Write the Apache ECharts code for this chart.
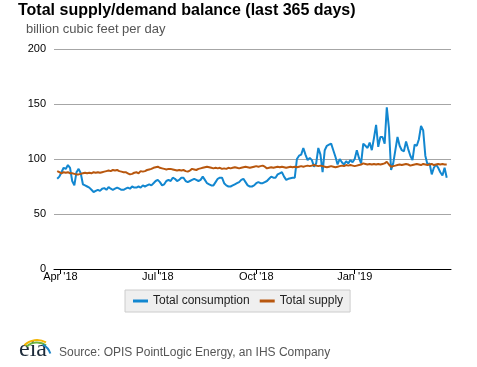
<!DOCTYPE html>
<html><head><meta charset="utf-8">
<script src="https://cdn.jsdelivr.net/npm/echarts@6/dist/echarts.min.js"></script>
<style>html,body{margin:0;padding:0;background:#fff}#c{width:477px;height:367px}</style>
</head><body><div id="c"></div>
<script>
const titleText = 'Total supply/demand balance (last 365 days)';
const unitText = 'billion cubic feet per day';
const sourceText = 'Source: OPIS PointLogic Energy, an IHS Company';
const seriesNames = ['Total consumption', 'Total supply'];
const firstDate = '2018-03-29';
const stepDays = 2;
const consumption = [
  82,84,88,92,91,94.5,92,80,76,88,
  91,87,77,76,75,74,72,70,71,72,
  71,73,73.5,72,74.5,73,72,73,74,73,
  72,72,73,74,73,75,74,74,75,74,
  76,75,76,77,76,78,80,81,79,76,
  77,80,81,80,83,82,80,81,83,83,
  80,79,80,81,82,81,80,81,84,81,
  78,77,76,76,79,82,83,83,78,76,
  75,75,76,77,78,79,81,82,79,76,
  75,75,76,78,79,78,78,79,80,82,
  84,83,83,86,87,88,84,81,82,82.5,
  83,83,100,103,104,110,104,99,101,99,
  93,96,110,104,88,108,112,113,114,108,
  102,95,100,97,95,98,96,99,97,100,
  108,101,96,114,112,110,115,108,119,131,
  111,120,120,114,147,128,90,96,108,120,
  112,108,107,116,109,103,99,113,112,118,
  130,126,103,95,96,86,92,95,92,88,
  85,92,83
];
const supply = [
  89,88,87,88,87.5,88,87,87,86.5,86,
  86,86.5,87,87.5,87,87.5,87,88,87.5,88,
  87.5,88,88.5,89,89.5,89,90,89.5,90,89,
  88.5,88,88,87,86,86.5,87.5,88,87,89,
  88.5,89,90,90.5,91,92,92.5,93,92,91.5,
  91,90.5,91,91,90.5,90,89.5,90,89.5,90,
  89,88.5,89.5,91,90.5,90,91,91.5,92,92.5,
  93,92.5,92,91.5,92,91.5,92,91,91.5,91,
  92,91.5,92,92.5,92,91.5,92,92.5,93,92.5,
  92,92.5,93,93.5,93,93.5,94,93,91.5,92,
  92.5,92,92.5,93,92.5,93,92.5,92,92.5,93,
  92.5,93,92.5,93,93.5,93,93.5,94,93.5,94,
  94.5,94,93.5,94,93.5,93,92.5,93,93.5,93,
  92.5,93,93.5,94,93.5,94.5,94,94.5,94,93.5,
  94,94.5,95,96,95.5,95,95.5,95,95.5,95,
  95.5,95,95.5,96,97.5,95,93,93.5,94,94.5,
  95,94.5,95,95.5,95,94,94.5,95,95.5,95,
  94.5,95.5,95,94.5,95,95.5,94.5,95,95.5,95,
  95.5,95,95
];
const tickDates = ['2018-04-01', '2018-07-01', '2018-10-01', '2019-01-01'];
const tickLabels = ["Apr '18", "Jul '18", "Oct '18", "Jan '19"];
const axisStart = '2018-03-26';
const axisEnd = '2019-04-01';
const yMin = 0, yMax = 200, yStep = 50;

function ts(s) { const p = s.split('-').map(Number); return Date.UTC(p[0], p[1] - 1, p[2]); }
const DAY = 86400000;
const t0 = ts(firstDate);
const toPairs = arr => arr.map((v, i) => [t0 + i * stepDays * DAY, v]);
const tickTs = tickDates.map(ts);

const FONT = '"Liberation Sans", Arial, sans-serif';
const chart = echarts.init(document.getElementById('c'), null, { renderer: 'canvas' });
chart.setOption({
  animation: false,
  title: [
    { text: titleText, left: 18, top: 3, padding: 0,
      textStyle: { fontFamily: FONT, fontSize: 16, fontWeight: 'bold', color: '#000' } },
    { text: unitText, left: 26, top: 23, padding: 0,
      textStyle: { fontFamily: FONT, fontSize: 13, fontWeight: 'normal', color: '#555' } }
  ],
  grid: { left: 54, right: 26, top: 49, bottom: 98 },
  legend: {
    data: seriesNames, left: 125, top: 290,
    padding: [5, 7, 5, 8], itemGap: 10, itemWidth: 15, itemHeight: 3,
    icon: 'rect',
    backgroundColor: '#efefef', borderColor: '#cccccc', borderWidth: 1,
    textStyle: { fontFamily: FONT, fontSize: 12, color: '#222' }
  },
  xAxis: {
    type: 'value', min: ts(axisStart), max: ts(axisEnd), scale: true,
    axisLine: { show: true, onZero: false, lineStyle: { color: '#000', width: 1 } },
    axisTick: { show: true, customValues: tickTs, length: 5, lineStyle: { color: '#000' } },
    axisLabel: {
      customValues: tickTs, margin: 2, fontFamily: FONT, fontSize: 11, color: '#000',
      showMinLabel: true, showMaxLabel: true,
      formatter: v => { const i = tickTs.findIndex(t => Math.abs(t - v) < DAY); return i >= 0 ? tickLabels[i] : ''; }
    },
    splitLine: { show: false }
  },
  yAxis: {
    type: 'value', min: yMin, max: yMax, interval: yStep,
    axisLine: { show: false }, axisTick: { show: false },
    axisLabel: { margin: 8, fontFamily: FONT, fontSize: 11, color: '#000' },
    splitLine: { show: true, lineStyle: { color: '#a6a6a6', width: 1 } }
  },
  series: [
    { name: seriesNames[0], type: 'line', data: toPairs(consumption), showSymbol: false, symbol: 'none',
      color: '#1287d0', lineStyle: { width: 2, color: '#1287d0' } },
    { name: seriesNames[1], type: 'line', data: toPairs(supply), showSymbol: false, symbol: 'none',
      color: '#b8570e', lineStyle: { width: 2, color: '#b8570e' } }
  ],
  graphic: [
    { type: 'text', left: 59, top: 347, style: { text: sourceText, font: '12px ' + FONT, fill: '#555' } },
    { type: 'text', x: 19, y: 362, style: { text: 'eia', font: '24px "Liberation Serif", "DejaVu Serif", serif', fill: '#1d2b3a', verticalAlign: 'bottom' } },
    { type: 'arc', shape: { cx: 37, cy: 358, r: 18, startAngle: -2.35, endAngle: -1.05 }, style: { stroke: '#f3b400', lineWidth: 2, fill: null } },
    { type: 'arc', shape: { cx: 37, cy: 358, r: 15.5, startAngle: -2.3, endAngle: -0.95 }, style: { stroke: '#6cb33f', lineWidth: 2, fill: null } },
    { type: 'arc', shape: { cx: 36, cy: 358, r: 15, startAngle: -1.1, endAngle: -0.3 }, style: { stroke: '#1c84c6', lineWidth: 2, fill: null } }
  ]
});
</script>
</body></html>
